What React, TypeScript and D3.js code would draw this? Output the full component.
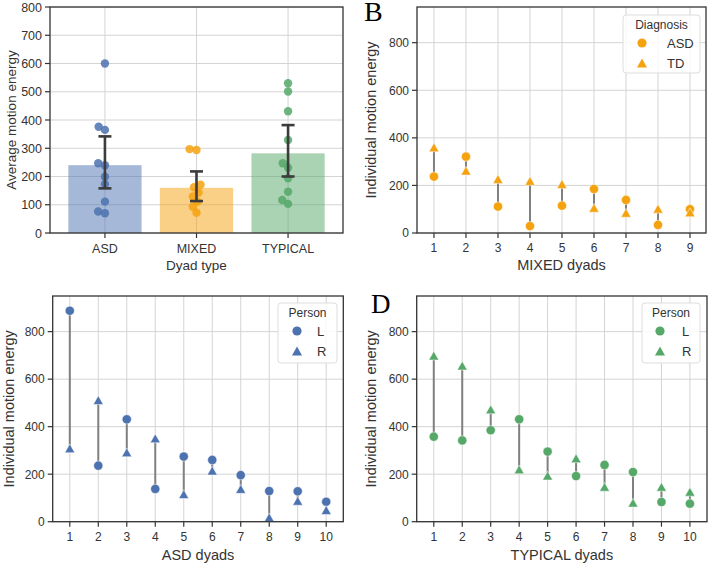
import React from "react";
import * as d3 from "d3";

// -- DATA --
const dyadTypes = ["ASD", "MIXED", "TYPICAL"];
const meanEnergy = [240, 160, 282];
const ciLow = [158, 113, 200];
const ciHigh = [342, 218, 382];
const asdDyadAvg = [600, 376, 365, 247, 240, 199, 173, 111, 76, 70];
const mixedDyadAvg = [297, 294, 171, 162, 143, 129, 111, 93, 72];
const typicalDyadAvg = [530, 501, 431, 329, 247, 231, 194, 146, 117, 103];

const mixedDyads = [1, 2, 3, 4, 5, 6, 7, 8, 9];
const mixedAsd = [237, 321, 111, 29, 115, 185, 139, 34, 100];
const mixedTd = [360, 262, 227, 219, 206, 106, 85, 102, 87];

const asdDyads = [1, 2, 3, 4, 5, 6, 7, 8, 9, 10];
const asdL = [888, 236, 431, 138, 274, 260, 196, 129, 128, 84];
const asdR = [309, 512, 292, 351, 116, 215, 138, 18, 88, 49];

const typicalDyads = [1, 2, 3, 4, 5, 6, 7, 8, 9, 10];
const typicalL = [358, 342, 385, 431, 295, 192, 239, 209, 83, 76];
const typicalR = [699, 657, 473, 220, 194, 267, 147, 80, 147, 126];

const yTicksA = [0, 100, 200, 300, 400, 500, 600, 700, 800];
const yTicksDyad = [0, 200, 400, 600, 800];

const palette: Record<string, string> = {
  ASD: "#4c72b0",
  MIXED: "#f5a20f",
  TYPICAL: "#55a868",
};

const FONT = "'Liberation Sans', Arial, sans-serif";
const INK = "#333333";
const GRID = "#d4d4d4";

// simple beeswarm: offsets in px so that points don't overlap
function swarm(vals: number[], y: (v: number) => number, d: number) {
  const order = d3.range(vals.length).sort((a, b) => vals[a] - vals[b]);
  const placed: { x: number; y: number }[] = [];
  const out: number[] = new Array(vals.length).fill(0);
  order.forEach((i) => {
    const py = y(vals[i]);
    const cands = [0];
    placed.forEach((p) => {
      const dy = Math.abs(p.y - py);
      if (dy < d) {
        const dx = Math.sqrt(d * d - dy * dy);
        cands.push(p.x - dx, p.x + dx);
      }
    });
    cands.sort((a, b) => Math.abs(a) - Math.abs(b) || a - b);
    const ok =
      cands.find((c) => placed.every((p) => Math.hypot(p.x - c, p.y - py) >= d - 0.01)) ?? 0;
    out[i] = ok;
    placed.push({ x: ok, y: py });
  });
  return out;
}

const triPath = (w: number, h: number) => `M0,${-h}L${w},${h}L${-w},${h}Z`;

function drawAxes(g: any, o: any) {
  const { l, r, t, b, y, xPos, xText, yTicks } = o;
  // grid
  g.selectAll(null)
    .data(yTicks)
    .enter()
    .append("line")
    .attr("x1", l)
    .attr("x2", r)
    .attr("y1", (d: number) => y(d))
    .attr("y2", (d: number) => y(d))
    .attr("stroke", GRID)
    .attr("stroke-width", 1);
  g.selectAll(null)
    .data(xPos)
    .enter()
    .append("line")
    .attr("x1", (d: number) => d)
    .attr("x2", (d: number) => d)
    .attr("y1", t)
    .attr("y2", b)
    .attr("stroke", GRID)
    .attr("stroke-width", 1);
  // y ticks
  yTicks.forEach((v: number) => {
    g.append("line")
      .attr("x1", l - 5)
      .attr("x2", l)
      .attr("y1", y(v))
      .attr("y2", y(v))
      .attr("stroke", INK)
      .attr("stroke-width", 1.2);
    g.append("text")
      .attr("x", l - 8)
      .attr("y", y(v))
      .attr("dy", "0.36em")
      .attr("text-anchor", "end")
      .attr("font-family", FONT)
      .attr("font-size", o.tickSize)
      .attr("fill", INK)
      .text(v);
  });
  // x ticks
  xPos.forEach((px: number, i: number) => {
    g.append("line")
      .attr("x1", px)
      .attr("x2", px)
      .attr("y1", b)
      .attr("y2", b + 5)
      .attr("stroke", INK)
      .attr("stroke-width", 1.2);
    g.append("text")
      .attr("x", px)
      .attr("y", o.xTickY)
      .attr("dy", "0.36em")
      .attr("text-anchor", "middle")
      .attr("font-family", FONT)
      .attr("font-size", o.tickSize)
      .attr("fill", INK)
      .text(xText[i]);
  });
  // axis labels
  g.append("text")
    .attr("x", (l + r) / 2)
    .attr("y", o.xLabelY)
    .attr("dy", "0.36em")
    .attr("text-anchor", "middle")
    .attr("font-family", FONT)
    .attr("font-size", o.labelSize)
    .attr("fill", INK)
    .text(o.xLabel);
  g.append("text")
    .attr("transform", `translate(${o.yLabelX},${(t + b) / 2}) rotate(-90)`)
    .attr("dy", "0.36em")
    .attr("text-anchor", "middle")
    .attr("font-family", FONT)
    .attr("font-size", o.labelSize)
    .attr("fill", INK)
    .text(o.yLabel);
}

function drawFrame(g: any, l: number, r: number, t: number, b: number) {
  g.append("rect")
    .attr("x", l)
    .attr("y", t)
    .attr("width", r - l)
    .attr("height", b - t)
    .attr("fill", "none")
    .attr("stroke", INK)
    .attr("stroke-width", 1.3);
}

function drawDyads(svg: any, o: any) {
  const g = svg.append("g");
  const x = d3.scaleLinear().domain(o.xDomain).range([o.l, o.r]);
  const y = d3.scaleLinear().domain([0, 950]).range([o.b, o.t]);
  drawAxes(g, {
    ...o,
    y,
    xPos: o.dyads.map((d: number) => x(d)),
    xText: o.dyads.map(String),
    yTicks: yTicksDyad,
  });
  // connecting lines
  g.selectAll(null)
    .data(o.dyads)
    .enter()
    .append("line")
    .attr("x1", (d: number) => x(d))
    .attr("x2", (d: number) => x(d))
    .attr("y1", (_: number, i: number) => y(o.first[i]))
    .attr("y2", (_: number, i: number) => y(o.second[i]))
    .attr("stroke", "#808080")
    .attr("stroke-width", 2);
  // circles
  g.selectAll(null)
    .data(o.dyads)
    .enter()
    .append("circle")
    .attr("cx", (d: number) => x(d))
    .attr("cy", (_: number, i: number) => y(o.first[i]))
    .attr("r", 4.6)
    .attr("fill", o.color)
    .attr("stroke", "#fff")
    .attr("stroke-width", 0.5);
  // triangles
  g.selectAll(null)
    .data(o.dyads)
    .enter()
    .append("path")
    .attr("d", triPath(5, 4.4))
    .attr("transform", (d: number, i: number) => `translate(${x(d)},${y(o.second[i])})`)
    .attr("fill", o.color)
    .attr("stroke", "#fff")
    .attr("stroke-width", 0.5);
  drawFrame(g, o.l, o.r, o.t, o.b);

  // legend
  const lg = o.legend;
  g.append("rect")
    .attr("x", lg.x)
    .attr("y", lg.y)
    .attr("width", lg.w)
    .attr("height", lg.h)
    .attr("rx", 3)
    .attr("fill", "#fff")
    .attr("fill-opacity", 0.85)
    .attr("stroke", "#dddddd");
  g.append("text")
    .attr("x", lg.x + lg.w / 2)
    .attr("y", lg.y + 10)
    .attr("dy", "0.36em")
    .attr("text-anchor", "middle")
    .attr("font-family", FONT)
    .attr("font-size", 12)
    .attr("fill", INK)
    .text(lg.title);
  g.append("circle")
    .attr("cx", lg.mx)
    .attr("cy", lg.y + 28)
    .attr("r", 4.6)
    .attr("fill", o.color);
  g.append("path")
    .attr("d", triPath(5, 4.4))
    .attr("transform", `translate(${lg.mx},${lg.y + 48})`)
    .attr("fill", o.color);
  lg.labels.forEach((txt: string, i: number) => {
    g.append("text")
      .attr("x", lg.tx)
      .attr("y", lg.y + 28 + i * 20)
      .attr("dy", "0.36em")
      .attr("font-family", FONT)
      .attr("font-size", 13)
      .attr("fill", INK)
      .text(txt);
  });
}

function drawBars(svg: any) {
  const g = svg.append("g");
  const l = 50,
    r = 343,
    t = 7,
    b = 233;
  const x = d3.scaleBand().domain(dyadTypes).range([l, r]).padding(0.2);
  const y = d3.scaleLinear().domain([0, 800]).range([b, t]);
  const cx = (d: string) => (x(d) as number) + x.bandwidth() / 2;
  drawAxes(g, {
    l,
    r,
    t,
    b,
    y,
    xPos: dyadTypes.map(cx),
    xText: dyadTypes,
    yTicks: yTicksA,
    tickSize: 12.5,
    labelSize: 13.5,
    xTickY: 248,
    xLabelY: 265,
    yLabelX: 11,
    xLabel: "Dyad type",
    yLabel: "Average motion energy",
  });
  // bars
  g.selectAll(null)
    .data(dyadTypes)
    .enter()
    .append("rect")
    .attr("x", (d: string) => x(d))
    .attr("width", x.bandwidth())
    .attr("y", (_: string, i: number) => y(meanEnergy[i]))
    .attr("height", (_: string, i: number) => b - y(meanEnergy[i]))
    .attr("fill", (d: string) => palette[d])
    .attr("fill-opacity", 0.5);
  // swarm points
  const groups = [asdDyadAvg, mixedDyadAvg, typicalDyadAvg];
  groups.forEach((vals, gi) => {
    const off = swarm(vals, y, 7);
    g.selectAll(null)
      .data(vals)
      .enter()
      .append("circle")
      .attr("cx", (_: number, i: number) => cx(dyadTypes[gi]) + off[i])
      .attr("cy", (v: number) => y(v))
      .attr("r", 4.2)
      .attr("fill", palette[dyadTypes[gi]])
      .attr("fill-opacity", 0.85);
  });
  // error bars
  dyadTypes.forEach((d, i) => {
    const c = cx(d);
    g.append("line")
      .attr("x1", c)
      .attr("x2", c)
      .attr("y1", y(ciLow[i]))
      .attr("y2", y(ciHigh[i]))
      .attr("stroke", "#3c3c3c")
      .attr("stroke-width", 2.6);
    [ciLow[i], ciHigh[i]].forEach((v) => {
      g.append("line")
        .attr("x1", c - 6.5)
        .attr("x2", c + 6.5)
        .attr("y1", y(v))
        .attr("y2", y(v))
        .attr("stroke", "#3c3c3c")
        .attr("stroke-width", 2.6);
    });
  });
  drawFrame(g, l, r, t, b);
}

const App = () => {
  const svgRef = React.useRef<SVGSVGElement>(null);

  React.useEffect(() => {
    const svg = d3.select(svgRef.current);
    svg.selectAll("*").remove();

    drawBars(svg);

    drawDyads(svg, {
      l: 417,
      r: 706,
      t: 7,
      b: 233,
      xDomain: [0.47, 9.5],
      dyads: mixedDyads,
      first: mixedAsd,
      second: mixedTd,
      color: palette.MIXED,
      tickSize: 12,
      labelSize: 14.5,
      xTickY: 248,
      xLabelY: 265,
      yLabelX: 371,
      xLabel: "MIXED dyads",
      yLabel: "Individual motion energy",
      legend: { x: 623, y: 15, w: 77, h: 58, title: "Diagnosis", mx: 642, tx: 667, labels: ["ASD", "TD"] },
    });

    drawDyads(svg, {
      l: 52.7,
      r: 343.3,
      t: 296,
      b: 521.7,
      xDomain: [0.4, 10.6],
      dyads: asdDyads,
      first: asdL,
      second: asdR,
      color: palette.ASD,
      tickSize: 12,
      labelSize: 14.5,
      xTickY: 537,
      xLabelY: 555,
      yLabelX: 9,
      xLabel: "ASD dyads",
      yLabel: "Individual motion energy",
      legend: { x: 278, y: 303, w: 59, h: 60, title: "Person", mx: 297, tx: 317, labels: ["L", "R"] },
    });

    drawDyads(svg, {
      l: 416.7,
      r: 707,
      t: 296,
      b: 521.7,
      xDomain: [0.4, 10.6],
      dyads: typicalDyads,
      first: typicalL,
      second: typicalR,
      color: palette.TYPICAL,
      tickSize: 12,
      labelSize: 14.5,
      xTickY: 537,
      xLabelY: 555,
      yLabelX: 371,
      xLabel: "TYPICAL dyads",
      yLabel: "Individual motion energy",
      legend: { x: 642, y: 303, w: 58, h: 60, title: "Person", mx: 660, tx: 682, labels: ["L", "R"] },
    });

    // panel letters
    const letters = [
      { t: "B", x: 364, y: 21, s: 28 },
      { t: "D", x: 371, y: 313, s: 27 },
    ];
    letters.forEach((d) => {
      svg
        .append("text")
        .attr("x", d.x)
        .attr("y", d.y)
        .attr("font-family", "'Liberation Serif', 'Times New Roman', serif")
        .attr("font-size", d.s)
        .attr("fill", "#000")
        .text(d.t);
    });
  }, []);

  return (
    <svg
      ref={svgRef}
      width={709}
      height={564}
      style={{ position: "absolute", left: 0, top: 0, background: "#fff" }}
    />
  );
};

export default App;
